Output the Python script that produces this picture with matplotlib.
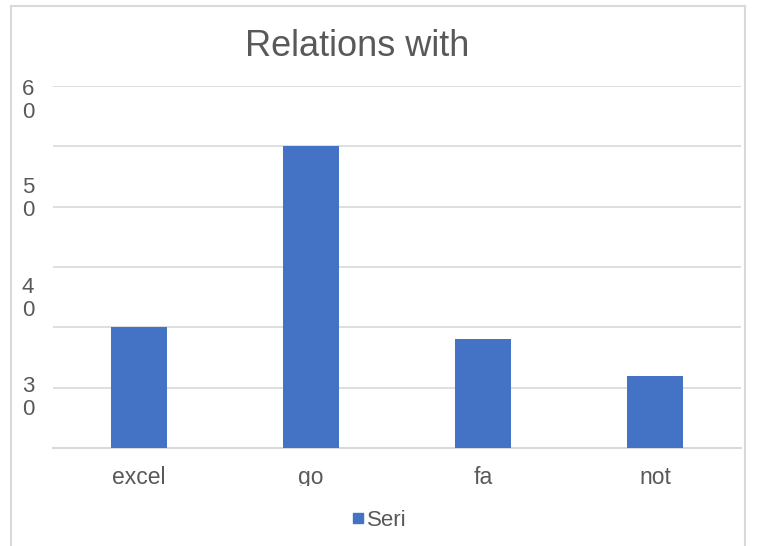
import matplotlib
matplotlib.use("Agg")
import matplotlib.pyplot as plt
from matplotlib.lines import Line2D
from matplotlib.transforms import Bbox, TransformedBbox

categories = ["excel", "go", "fa", "not"]
values = [20, 50, 18, 12]
series_name = "Seri"
title = "Relations with"
ytick_texts = ["6\n0", "5\n0", "4\n0", "3\n0"]

W, H = 760, 546
fig = plt.figure(figsize=(W / 100, H / 100), dpi=100)
plt.rcParams['font.family'] = ['Liberation Sans', 'DejaVu Sans']
TXT = "#595959"
GRID = "#D9D9D9"
BAR = "#4472C4"

def fx(px):
    return px / W

def fy(py):
    return 1 - py / H

ax = fig.add_axes([fx(53), fy(448), fx(741) - fx(53), fy(86) - fy(448)])
x = list(range(len(categories)))
ax.bar(x, values, width=0.32, color=BAR, zorder=3)
ax.set_xlim(-0.5, len(categories) - 0.5)
ax.set_ylim(0, 60)
ax.set_yticks(range(0, 61, 10))
ax.yaxis.grid(True, color=GRID, linewidth=1.2, zorder=0)
ax.tick_params(axis="y", length=0, labelleft=False)
ax.tick_params(axis="x", length=0, pad=13, labelsize=16.5, labelcolor=TXT)
ax.set_xticks(x)
ax.set_xticklabels(categories)
for s in ["left", "right", "top"]:
    ax.spines[s].set_visible(False)
ax.spines["bottom"].set_color(GRID)
ax.spines["bottom"].set_linewidth(1.5)

clip = TransformedBbox(Bbox.from_extents(0, fy(485.5), 1, 1), fig.transFigure)
for lab in ax.get_xticklabels():
    lab.set_clip_on(True)
    lab.set_clip_box(clip)

# wrapped y labels
ylab_pos = [101, 199, 299, 398]
for t, p in zip(ytick_texts, ylab_pos):
    fig.text(fx(28), fy(p), t, ha="center", va="center", fontsize=16,
             color=TXT, linespacing=1.1)

fig.text(fx(357), fy(47), title, ha="center", va="center", fontsize=26, color=TXT)

handle = Line2D([], [], marker="s", linestyle="none", markersize=7,
                markerfacecolor=BAR, markeredgecolor=BAR)
fig.legend([handle], [series_name], loc="center", bbox_to_anchor=(fx(377), fy(520)),
           frameon=False, fontsize=16, handletextpad=-0.1, labelcolor=TXT,
           handlelength=1.0)

# chart area border
border_kw = dict(color=GRID, linewidth=1.5, transform=fig.transFigure)
fig.add_artist(Line2D([fx(11), fx(11)], [0, fy(6)], **border_kw))
fig.add_artist(Line2D([fx(11), fx(745)], [fy(6), fy(6)], **border_kw))
fig.add_artist(Line2D([fx(745), fx(745)], [0, fy(6)], **border_kw))

fig.savefig("out.png", dpi=100)
